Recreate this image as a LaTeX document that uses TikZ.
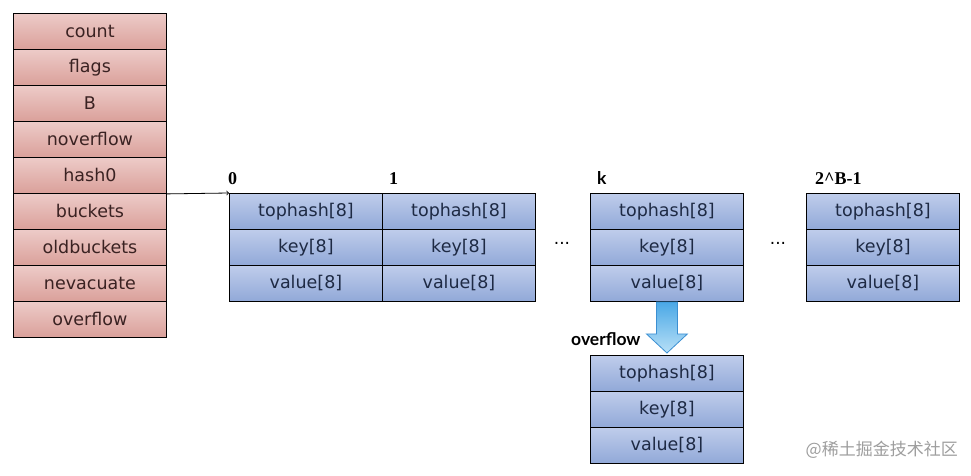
\documentclass[tikz,border=0pt]{standalone}
\usepackage{fontspec}
\setmainfont{DejaVu Sans}
\newfontfamily\labserif{Liberation Serif}
\newfontfamily\labsans{Lato}
\newfontfamily\cjk{Noto Sans CJK SC}
\usetikzlibrary{calc,shadings}
\definecolor{redtop}{HTML}{EDCBC8}
\definecolor{redbot}{HTML}{DAA09A}
\definecolor{bluetop}{HTML}{BFCDEB}
\definecolor{bluebot}{HTML}{91A9D8}
\definecolor{redtxt}{HTML}{3A2222}
\definecolor{bluetxt}{HTML}{1E2A44}
\definecolor{arrtop}{HTML}{4AA8E6}
\definecolor{arrbot}{HTML}{B8E0F7}
\definecolor{arredge}{HTML}{3B8FD2}
\begin{document}
\begin{tikzpicture}[x=1pt,y=-1pt,
  cell/.style={draw=black,line width=0.9pt,minimum width=153pt,minimum height=36pt,
    inner sep=0pt,anchor=north west,font=\fontsize{17.5}{19}\selectfont},
  redcell/.style={cell,top color=redtop,bottom color=redbot,text=redtxt},
  bluecell/.style={cell,top color=bluetop,bottom color=bluebot,text=bluetxt},
  numlab/.style={anchor=base west,inner sep=0pt,font=\labserif\bfseries\fontsize{18}{20}\selectfont},
  sanslab/.style={anchor=base west,inner sep=0pt,font=\labsans\bfseries\fontsize{17.5}{19}\selectfont},
  dots/.style={inner sep=0pt,font=\fontsize{17}{19}\selectfont}]
\path[use as bounding box,fill=white] (0,0) rectangle (971,476);

% hmap struct
\foreach \t [count=\i from 0] in {count,flags,B,noverflow,hash0,buckets,oldbuckets,nevacuate,overflow}
  \node[redcell] (h\i) at (13,13+36*\i) {\t};

% buckets
\foreach \nm/\x in {b0/229,b1/382,bk/590,bn/806}{
  \node[bluecell] (\nm t) at (\x,193) {tophash[8]};
  \node[bluecell] (\nm k) at (\x,229) {key[8]};
  \node[bluecell] (\nm v) at (\x,265) {value[8]};
}
\node[bluecell] (ovt) at (590,355) {tophash[8]};
\node[bluecell] (ovk) at (590,391) {key[8]};
\node[bluecell] (ovv) at (590,427) {value[8]};

% labels
\node[numlab] (l0) at (228,184) {0};
\node[numlab] (l1) at (389,184) {1};
\node[sanslab] (lk) at (597,184) {k};
\node[numlab] (ln) at (815,184) {2\^{}B-1};
\node[sanslab] (lov) at (571,345) {overflow};
\node[dots] (d1) at (562,243) {...};
\node[dots] (d2) at (778,243) {...};

% pointer
\draw[->,line width=0.8pt] (h4.south east) -- (b0t.north west);

% block arrow
\path[draw=arredge,line width=0.8pt,top color=arrtop,bottom color=arrbot]
  ($(bkv.south)+(-10.5,0)$) -- ($(bkv.south)+(10.5,0)$) -- ($(bkv.south)+(10.5,32)$)
  -- ($(bkv.south)+(20.5,32)$) -- ($(ovt.north)+(0,-2)$) -- ($(bkv.south)+(-20.5,32)$)
  -- ($(bkv.south)+(-10.5,32)$) -- cycle;

% watermark
\node[anchor=east,inner sep=0pt,text=black!38,font=\cjk\fontsize{17}{19}\selectfont] (wm) at (958,450) {@稀土掘金技术社区};
\end{tikzpicture}
\end{document}
